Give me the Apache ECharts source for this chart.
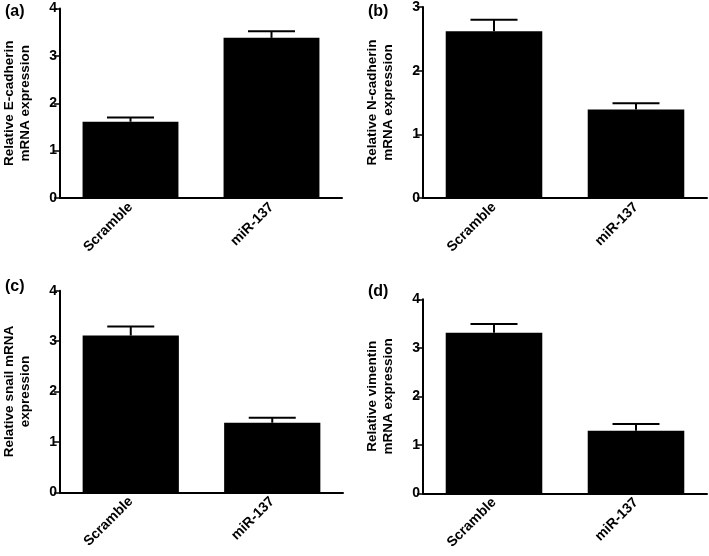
<!DOCTYPE html>
<html>
<head>
<meta charset="utf-8">
<script src="https://cdn.jsdelivr.net/npm/echarts@6/dist/echarts.min.js"></script>
<style>html,body{margin:0;padding:0;background:#fff}#c{width:709px;height:556px}</style>
</head>
<body>
<div id="c"></div>
<script>
var categories = ['Scramble', 'miR-137'];
var panelLabels = ['(a)', '(b)', '(c)', '(d)'];
var yTitles = ['Relative E-cadherin\nmRNA expression', 'Relative N-cadherin\nmRNA expression', 'Relative snail mRNA\nexpression', 'Relative vimentin\nmRNA expression'];
var yMax = [4, 3, 4, 4];
var eCadherin = [1.61, 3.38];
var eCadherinErr = [0.09, 0.14];
var nCadherin = [2.62, 1.39];
var nCadherinErr = [0.18, 0.10];
var snail = [3.11, 1.38];
var snailErr = [0.18, 0.10];
var vimentin = [3.31, 1.29];
var vimentinErr = [0.18, 0.14];

var means = [eCadherin, nCadherin, snail, vimentin];
var errs = [eCadherinErr, nCadherinErr, snailErr, vimentinErr];

var FONT = '"Liberation Sans", Arial, Helvetica, sans-serif';
var grids = [
  {left: 57, right: 367, top: 8.5, bottom: 358},
  {left: 423, right: 2, top: 6.7, bottom: 358},
  {left: 57, right: 366, top: 290.7, bottom: 63.7},
  {left: 423, right: 2, top: 299.3, bottom: 62.7}
];
var labelPos = [[5, 4], [368, 4], [5, 279], [368, 284]];

var xAxes = [], yAxes = [], series = [], graphics = [];
for (var i = 0; i < 4; i++) {
  xAxes.push({
    gridIndex: i, type: 'category', data: categories,
    axisLine: {lineStyle: {color: '#000', width: 2}},
    axisTick: {alignWithLabel: true, length: 6, lineStyle: {color: '#000', width: 1.5}},
    axisLabel: {rotate: 45, color: '#000', fontWeight: 'bold', fontSize: 14, fontFamily: FONT, margin: 7}
  });
  yAxes.push({
    gridIndex: i, type: 'value', min: 0, max: yMax[i], interval: 1,
    name: yTitles[i], nameLocation: 'middle', nameGap: 27, nameRotate: 90,
    nameTextStyle: {color: '#000', fontWeight: 'bold', fontSize: 13.5, fontFamily: FONT, lineHeight: 16},
    axisLine: {show: true, lineStyle: {color: '#000', width: 2}},
    axisTick: {show: true, length: 6, lineStyle: {color: '#000', width: 1.5}},
    axisLabel: {color: '#000', fontWeight: 'bold', fontSize: 14, fontFamily: FONT, margin: 3},
    splitLine: {show: false}
  });
  series.push({
    type: 'bar', xAxisIndex: i, yAxisIndex: i, data: means[i], barWidth: '68%',
    itemStyle: {color: '#000'}, silent: true
  });
  var ed = [];
  for (var k = 0; k < categories.length; k++) ed.push([k, means[i][k], means[i][k] + errs[i][k]]);
  series.push({
    type: 'custom', xAxisIndex: i, yAxisIndex: i, data: ed, silent: true, z: 5,
    renderItem: function (params, api) {
      var x = api.value(0);
      var p0 = api.coord([x, api.value(1)]);
      var p1 = api.coord([x, api.value(2)]);
      var hw = 23.5;
      return {
        type: 'group',
        children: [
          {type: 'line', shape: {x1: p0[0], y1: p0[1], x2: p1[0], y2: p1[1]}, style: {stroke: '#000', lineWidth: 2}},
          {type: 'line', shape: {x1: p1[0] - hw, y1: p1[1], x2: p1[0] + hw, y2: p1[1]}, style: {stroke: '#000', lineWidth: 2}}
        ]
      };
    }
  });
  graphics.push({
    type: 'text', left: labelPos[i][0], top: labelPos[i][1],
    style: {text: panelLabels[i], fill: '#000', font: 'bold 16px ' + FONT}
  });
}

var chart = echarts.init(document.getElementById('c'));
chart.setOption({
  animation: false,
  backgroundColor: '#fff',
  grid: grids,
  xAxis: xAxes,
  yAxis: yAxes,
  series: series,
  graphic: graphics
});
</script>
</body>
</html>
